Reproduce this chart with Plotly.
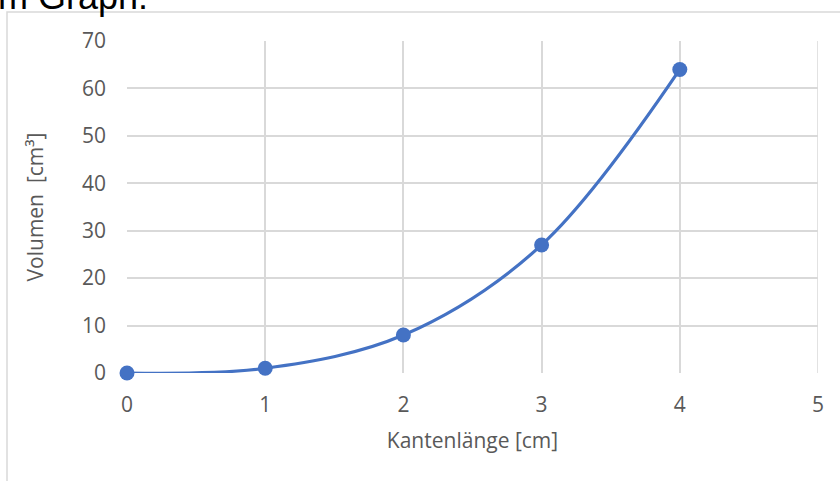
import plotly.graph_objects as go

# Edge length (cm) and cube volume (cm³)
kantenlaenge = [0, 1, 2, 3, 4]
volumen = [0, 1, 8, 27, 64]

x_ticks = [0, 1, 2, 3, 4, 5]
y_ticks = [0, 10, 20, 30, 40, 50, 60, 70]

W, H = 840, 481
L, R, T, B = 127, 22, 41, 108
pw, ph = W - L - R, H - T - B

def px_x(p):
    return (p - L) / pw

def px_y(p):
    return 1 - (p - T) / ph

grey_text = "#595959"
grid = "#d9d9d9"
font_family = "Open Sans, Noto Sans, sans-serif"
fs = 21

fig = go.Figure()
fig.add_trace(go.Scatter(
    x=kantenlaenge, y=volumen,
    mode="lines+markers",
    line=dict(color="#4472C4", width=3.2, shape="spline", smoothing=1.0),
    marker=dict(color="#4472C4", size=15),
    showlegend=False,
    cliponaxis=False,
))

fig.update_layout(
    width=W, height=H,
    margin=dict(l=L, r=R, t=T, b=B),
    paper_bgcolor="white", plot_bgcolor="white",
    font=dict(family=font_family, color=grey_text, size=fs),
    xaxis=dict(
        range=[0, 5], tickvals=x_ticks, ticktext=[str(v) for v in x_ticks],
        showgrid=True, gridcolor=grid, gridwidth=1.5,
        zeroline=False, showline=False, ticks="",
        ticklabelstandoff=17,
        title=dict(text="Kantenlänge [cm]", standoff=16,
                   font=dict(size=fs, color=grey_text)),
        fixedrange=True,
    ),
    yaxis=dict(
        range=[0, 70], tickvals=y_ticks, ticktext=[str(v) for v in y_ticks],
        showgrid=True, gridcolor=grid, gridwidth=1.5,
        zeroline=False, showline=False, ticks="",
        ticklabelstandoff=20,
        title=dict(text="Volumen  [cm³]", standoff=32,
                   font=dict(size=fs, color=grey_text)),
        fixedrange=True,
    ),
    shapes=[
        # outer chart frame
        dict(type="rect", xref="paper", yref="paper",
             x0=px_x(7), x1=px_x(W + 10), y0=px_y(H + 10), y1=px_y(12),
             line=dict(color=grid, width=1.5), fillcolor="rgba(0,0,0,0)",
             layer="below"),
        # right edge of plot area at x = 5
        dict(type="line", xref="x", yref="paper", x0=5, x1=5, y0=0, y1=1,
             line=dict(color=grid, width=1.5), layer="below"),
    ],
    annotations=[
        dict(text="Im Graph:", xref="paper", yref="paper",
             x=px_x(-14), y=px_y(19), xanchor="left", yanchor="bottom",
             showarrow=False, font=dict(size=36, color="black",
                                        family="Liberation Sans, Arial, sans-serif")),
    ],
)

fig.write_html("out.html")
